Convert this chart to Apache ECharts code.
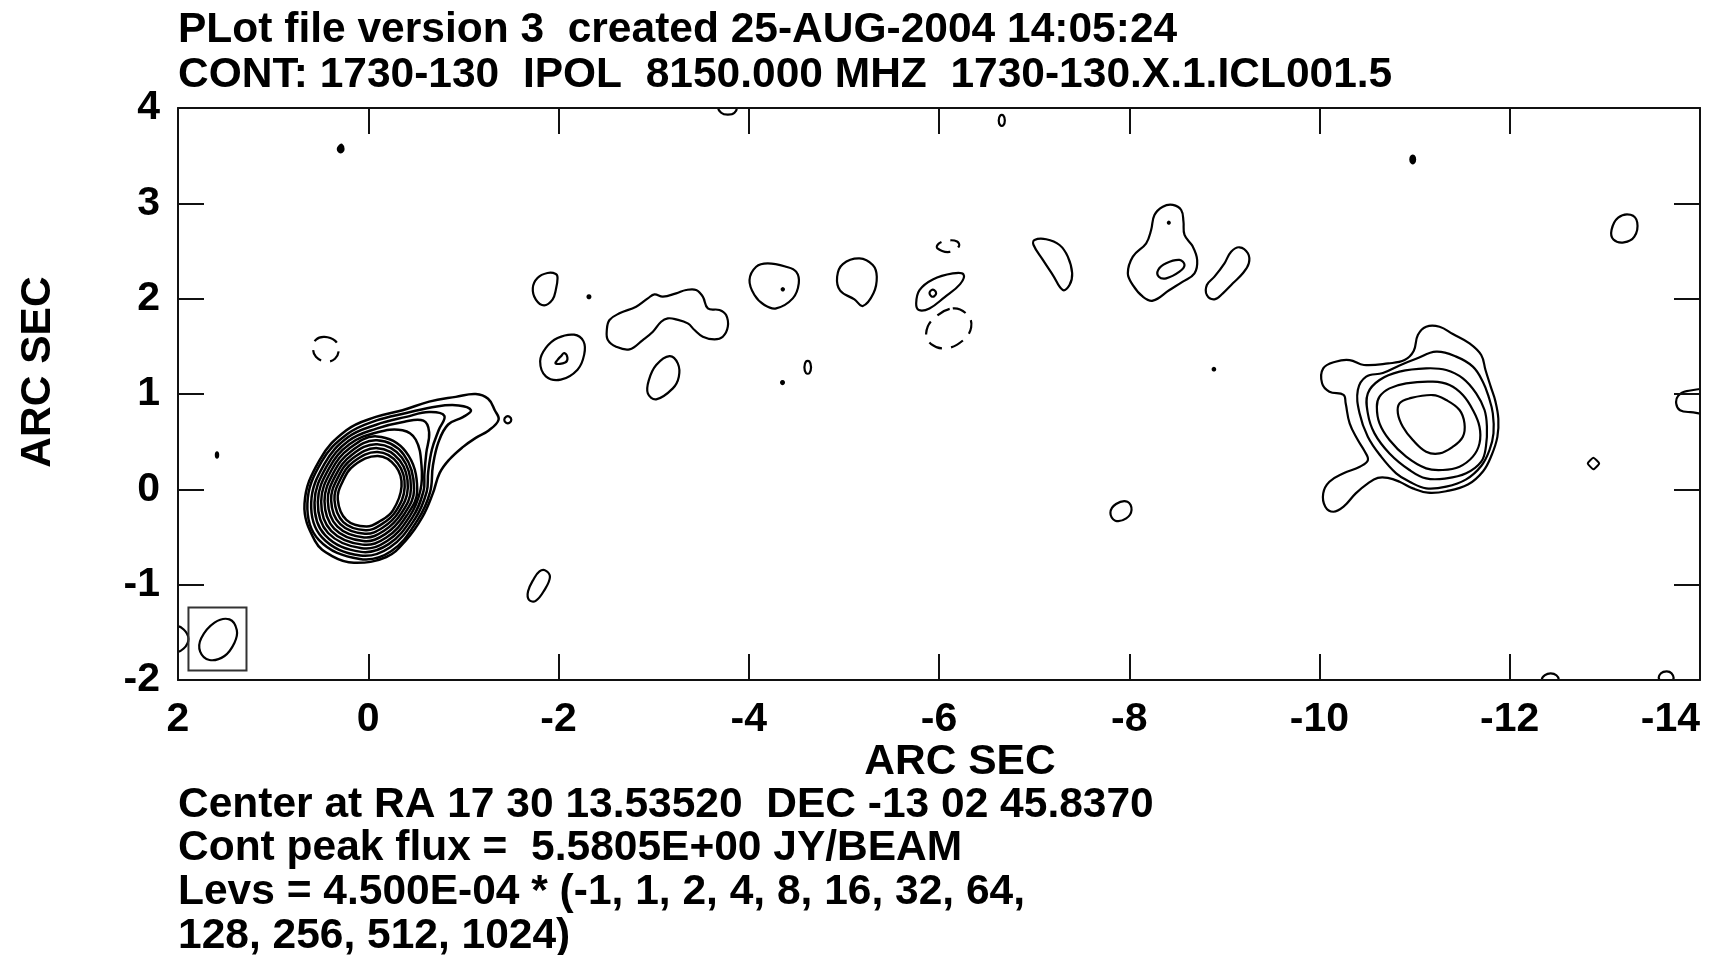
<!DOCTYPE html>
<html>
<head>
<meta charset="utf-8">
<script src="https://cdn.jsdelivr.net/npm/echarts@6/dist/echarts.min.js"></script>
<style>
  html, body { margin: 0; padding: 0; background: #fff; }
  #chart { width: 1717px; height: 955px; }
</style>
</head>
<body>
<div id="chart"></div>
<script>
// ---- Header / footer text ----
const headerLines = [
  'PLot file version 3  created 25-AUG-2004 14:05:24',
  'CONT: 1730-130  IPOL  8150.000 MHZ  1730-130.X.1.ICL001.5'
];
const footerLines = [
  'Center at RA 17 30 13.53520  DEC -13 02 45.8370',
  'Cont peak flux =  5.5805E+00 JY/BEAM',
  'Levs = 4.500E-04 * (-1, 1, 2, 4, 8, 16, 32, 64,',
  '128, 256, 512, 1024)'
];
const axisTitle = 'ARC SEC';

// ---- Contour paths, [RA offset, Dec offset] in arcsec ----
// Core: eleven nested positive levels, the lowest ones bending into the jet
const coreLevel1 = [[0.15,-0.77],[0.38,-0.70],[0.56,-0.54],[0.67,-0.15],[0.51,0.31],[0.23,0.62],[-0.08,0.76],[-0.36,0.83],[-0.64,0.92],[-0.92,0.97],[-1.13,1.0],[-1.26,0.95],[-1.33,0.83],[-1.37,0.73],[-1.27,0.62],[-1.13,0.54],[-0.99,0.44],[-0.85,0.31],[-0.75,0.17],[-0.68,-0.04],[-0.57,-0.29],[-0.40,-0.53],[-0.19,-0.71]];
const coreLevel2 = [[0.09,-0.73],[0.52,-0.53],[0.64,-0.15],[0.49,0.29],[0.22,0.58],[-0.08,0.72],[-0.40,0.80],[-0.72,0.87],[-0.95,0.88],[-1.08,0.83],[-1.00,0.76],[-0.84,0.68],[-0.74,0.50],[-0.68,0.25],[-0.65,-0.03],[-0.52,-0.32],[-0.24,-0.65]];
const coreLevel3 = [[0.084,-0.694],[0.486,-0.504],[0.60,-0.142],[0.462,0.264],[0.214,0.546],[-0.084,0.678],[-0.40,0.76],[-0.64,0.81],[-0.80,0.77],[-0.74,0.62],[-0.67,0.42],[-0.63,0.18],[-0.614,-0.026],[-0.492,-0.308],[-0.226,-0.61]];
const coreLevel4 = [[0.076,-0.656],[0.454,-0.481],[0.565,-0.138],[0.438,0.241],[0.206,0.509],[-0.086,0.637],[-0.38,0.71],[-0.58,0.72],[-0.64,0.60],[-0.61,0.38],[-0.59,0.16],[-0.581,-0.019],[-0.463,-0.297],[-0.214,-0.575]];
const coreLevel5 = [[0.068,-0.618],[0.422,-0.458],[0.53,-0.134],[0.414,0.218],[0.198,0.472],[-0.088,0.596],[-0.36,0.62],[-0.50,0.52],[-0.56,0.25],[-0.548,-0.012],[-0.434,-0.286],[-0.202,-0.54]];
const coreLevel6 = [[0.06,-0.58],[0.39,-0.435],[0.495,-0.13],[0.39,0.195],[0.19,0.435],[-0.09,0.555],[-0.395,0.395],[-0.515,-0.005],[-0.405,-0.275],[-0.19,-0.505]];
const coreLevel7 = [[0.052,-0.542],[0.358,-0.412],[0.46,-0.126],[0.366,0.172],[0.182,0.398],[-0.092,0.514],[-0.374,0.364],[-0.482,0.002],[-0.376,-0.264],[-0.178,-0.47]];
const coreLevel8 = [[0.044,-0.504],[0.326,-0.389],[0.425,-0.122],[0.342,0.149],[0.174,0.361],[-0.094,0.473],[-0.353,0.333],[-0.449,0.009],[-0.347,-0.253],[-0.166,-0.435]];
const coreLevel9 = [[0.036,-0.466],[0.294,-0.366],[0.39,-0.118],[0.318,0.126],[0.166,0.324],[-0.096,0.432],[-0.332,0.302],[-0.416,0.016],[-0.318,-0.242],[-0.154,-0.40]];
const coreLevel10 = [[0.028,-0.428],[0.262,-0.343],[0.355,-0.114],[0.294,0.103],[0.158,0.287],[-0.098,0.391],[-0.311,0.271],[-0.383,0.023],[-0.289,-0.231],[-0.142,-0.365]];
const coreLevel11 = [[0.02,-0.39],[0.23,-0.32],[0.32,-0.11],[0.27,0.08],[0.15,0.25],[-0.10,0.35],[-0.29,0.24],[-0.35,0.03],[-0.26,-0.22],[-0.13,-0.33]];

// Hot spot at about (-11, 0.7): five levels
const lobeLevel1 = [[-10.039,1.269],[-10.168,1.339],[-10.317,1.356],[-10.467,1.304],[-10.723,1.321],[-10.894,1.356],[-10.99,1.45],[-11.034,1.619],[-11.121,1.706],[-11.262,1.706],[-11.402,1.629],[-11.577,1.531],[-11.7,1.409],[-11.745,1.252],[-11.80,1.077],[-11.85,0.92],[-11.88,0.74],[-11.87,0.55],[-11.81,0.36],[-11.72,0.19],[-11.56,0.05],[-11.332,-0.02],[-11.139,-0.035],[-10.981,0.01],[-10.841,0.08],[-10.718,0.12],[-10.613,0.12],[-10.509,0.063],[-10.381,-0.042],[-10.253,-0.182],[-10.146,-0.235],[-10.061,-0.182],[-10.039,-0.042],[-10.104,0.08],[-10.253,0.168],[-10.424,0.237],[-10.509,0.307],[-10.467,0.412],[-10.403,0.517],[-10.317,0.692],[-10.275,0.902],[-10.253,0.99],[-10.104,1.024],[-10.027,1.112]];
const lobeLevel2 = [[-10.403,1.042],[-10.491,1.182],[-10.666,1.22],[-10.841,1.30],[-11.016,1.37],[-11.227,1.444],[-11.437,1.392],[-11.612,1.287],[-11.717,1.129],[-11.78,0.965],[-11.822,0.797],[-11.829,0.587],[-11.787,0.412],[-11.7,0.245],[-11.542,0.105],[-11.332,0.028],[-11.121,0.01],[-10.946,0.08],[-10.806,0.168],[-10.648,0.343],[-10.508,0.552],[-10.421,0.797]];
const lobeLevel3 = [[-10.508,1.007],[-10.631,1.147],[-10.841,1.234],[-11.121,1.269],[-11.332,1.252],[-11.507,1.164],[-11.647,1.007],[-11.735,0.832],[-11.76,0.657],[-11.75,0.45],[-11.7,0.29],[-11.542,0.168],[-11.332,0.115],[-11.121,0.115],[-10.946,0.203],[-10.736,0.377],[-10.578,0.587],[-10.508,0.797]];
const lobeLevel4 = [[-10.631,0.972],[-10.736,1.059],[-10.911,1.112],[-11.192,1.129],[-11.367,1.094],[-11.507,0.989],[-11.612,0.832],[-11.682,0.657],[-11.682,0.482],[-11.612,0.343],[-11.472,0.238],[-11.297,0.203],[-11.121,0.22],[-10.911,0.343],[-10.736,0.517],[-10.631,0.692],[-10.603,0.867]];
const lobeLevel5 = [[-10.841,0.902],[-10.946,0.954],[-11.192,0.989],[-11.332,0.937],[-11.472,0.832],[-11.524,0.692],[-11.507,0.552],[-11.402,0.447],[-11.262,0.377],[-11.121,0.395],[-10.981,0.517],[-10.876,0.657],[-10.824,0.797]];

// Jet knots between the core and the hot spot
const knotA = [[-1.972,2.259],[-1.884,2.269],[-1.779,2.217],[-1.730,2.112],[-1.762,1.99],[-1.849,1.93],[-1.937,1.99],[-1.972,2.094],[-1.99,2.217]];
const knotB = [[-2.164,1.622],[-2.263,1.552],[-2.27,1.413],[-2.2,1.255],[-2.024,1.150],[-1.867,1.185],[-1.807,1.343],[-1.867,1.483],[-1.99,1.587]];
const knotBPeak = [[-2.06,1.43],[-2.094,1.38],[-2.07,1.33],[-1.97,1.32],[-2.0,1.37],[-2.03,1.40]];
const knotC = [[-2.508,1.671],[-2.536,1.776],[-2.641,1.846],[-2.816,1.916],[-2.939,2.003],[-3.009,2.045],[-3.097,2.021],[-3.237,2.056],[-3.342,2.091],[-3.447,2.091],[-3.517,2.021],[-3.57,1.898],[-3.692,1.881],[-3.762,1.828],[-3.78,1.706],[-3.727,1.601],[-3.64,1.573],[-3.517,1.601],[-3.43,1.671],[-3.359,1.741],[-3.237,1.783],[-3.149,1.793],[-3.079,1.758],[-2.992,1.653],[-2.886,1.566],[-2.746,1.468],[-2.606,1.496],[-2.519,1.566]];
const knotD = [[-3.167,1.398],[-3.254,1.321],[-3.265,1.181],[-3.202,1.059],[-3.027,0.944],[-2.939,1.007],[-2.95,1.146],[-3.027,1.304]];
const knotE = [[-4.20,2.37],[-4.393,2.335],[-4.498,2.283],[-4.526,2.16],[-4.463,2.003],[-4.288,1.898],[-4.165,1.933],[-4.06,2.038],[-4.008,2.195],[-4.078,2.335]];
const knotF = [[-5.164,2.423],[-5.304,2.353],[-5.346,2.23],[-5.311,2.056],[-5.199,1.923],[-5.111,1.993],[-4.961,2.084],[-4.929,2.23],[-4.989,2.363]];
const knotG = [[-5.76,1.951],[-5.795,2.09],[-5.935,2.202],[-6.145,2.265],[-6.257,2.255],[-6.222,2.153],[-6.057,2.014],[-5.9,1.898],[-5.788,1.881]];
const knotGPeak = [[-5.90,2.06],[-5.92,2.09],[-5.95,2.09],[-5.97,2.056],[-5.95,2.025],[-5.92,2.025]];
const knotH = [[-7.004,2.616],[-7.127,2.623],[-7.267,2.563],[-7.354,2.441],[-7.4,2.266],[-7.372,2.143],[-7.302,2.091],[-7.197,2.248],[-7.092,2.406],[-6.994,2.563]];
const knotI = [[-8.458,2.983],[-8.546,2.93],[-8.57,2.808],[-8.581,2.668],[-8.668,2.546],[-8.714,2.406],[-8.686,2.266],[-8.563,2.178],[-8.423,2.091],[-8.248,1.979],[-8.143,2.021],[-8.038,2.143],[-7.985,2.266],[-8.038,2.441],[-8.178,2.581],[-8.23,2.72],[-8.265,2.878],[-8.353,2.965]];
const knotIPeak = [[-8.528,2.406],[-8.581,2.353],[-8.528,2.283],[-8.388,2.213],[-8.311,2.231],[-8.304,2.301],[-8.388,2.371]];
const knotJ = [[-9.159,2.539],[-9.247,2.476],[-9.257,2.371],[-9.194,2.266],[-9.089,2.161],[-8.984,2.056],[-8.896,1.993],[-8.816,2.038],[-8.816,2.143],[-8.896,2.231],[-9.001,2.371],[-9.071,2.493]];

// Small isolated positive islands
const islandTail = [[-1.43,0.73],[-1.449,0.762],[-1.485,0.762],[-1.504,0.73],[-1.485,0.698],[-1.449,0.698]];
const islandM = [[-4.585,1.28],[-4.602,1.341],[-4.638,1.341],[-4.655,1.28],[-4.638,1.219],[-4.602,1.219]];
const islandTop = [[-6.628,3.87],[-6.644,3.922],[-6.676,3.922],[-6.692,3.87],[-6.676,3.818],[-6.644,3.818]];
const islandQ = [[-7.981,-0.13],[-8.024,-0.217],[-7.968,-0.305],[-7.853,-0.329],[-7.802,-0.245],[-7.861,-0.154]];
const islandR = [[-13.27,2.88],[-13.34,2.80],[-13.31,2.65],[-13.2,2.59],[-13.09,2.62],[-13.07,2.72],[-13.14,2.85]];
const islandS = [[-12.879,0.33],[-12.94,0.272],[-12.879,0.21],[-12.82,0.272]];
const islandT = [[-1.86,-0.85],[-1.91,-0.92],[-1.85,-1.06],[-1.76,-1.17],[-1.69,-1.16],[-1.68,-1.07],[-1.74,-0.94],[-1.80,-0.86]];
// Single-pixel peaks
const peakNW = [[0.32,3.57],[0.305,3.60],[0.28,3.615],[0.26,3.57],[0.275,3.54],[0.305,3.54]];
const peakW = [[1.578,0.36],[1.584,0.386],[1.596,0.386],[1.602,0.36],[1.596,0.334],[1.584,0.334]];
const peakJ = [[-2.305,2.02],[-2.312,2.033],[-2.328,2.033],[-2.335,2.02],[-2.328,2.007],[-2.312,2.007]];
const peakK = [[-4.346,2.098],[-4.352,2.108],[-4.364,2.108],[-4.37,2.098],[-4.364,2.088],[-4.352,2.088]];
const peakL = [[-4.34,1.12],[-4.347,1.133],[-4.363,1.133],[-4.37,1.12],[-4.363,1.107],[-4.347,1.107]];
const peakPear = [[-8.406,2.797],[-8.411,2.806],[-8.421,2.806],[-8.426,2.797],[-8.421,2.788],[-8.411,2.788]];
const peakN = [[-8.877,1.26],[-8.883,1.271],[-8.897,1.271],[-8.903,1.26],[-8.897,1.249],[-8.883,1.249]];
const peakP = [[-10.955,3.46],[-10.968,3.495],[-10.993,3.495],[-11.005,3.46],[-10.993,3.425],[-10.968,3.425]];
// Islands cut by the map edges
const edgeEast = [[-14.1,1.03],[-13.86,1.03],[-13.77,0.98],[-13.75,0.90],[-13.79,0.83],[-13.9,0.81],[-14.1,0.81]];
const edgeSouth1 = [[-12.34,-2.0],[-12.37,-1.95],[-12.43,-1.93],[-12.49,-1.95],[-12.51,-2.0],[-12.43,-2.06]];
const edgeSouth2 = [[-13.57,-1.99],[-13.59,-1.93],[-13.65,-1.91],[-13.70,-1.93],[-13.72,-1.99],[-13.65,-2.05]];
const edgeNorth = [[-3.68,4.02],[-3.71,3.95],[-3.78,3.93],[-3.85,3.95],[-3.87,4.02],[-3.78,4.10]];
const edgeWest = [[2.03,-1.44],[1.94,-1.47],[1.89,-1.57],[1.94,-1.67],[2.03,-1.70],[2.12,-1.57]];

// Negative level (-1), drawn dashed
const negA = [[0.46,1.60],[0.35,1.56],[0.31,1.47],[0.35,1.37],[0.45,1.34],[0.55,1.39],[0.58,1.48],[0.55,1.57]];
const negB = [[-6.145,1.898],[-6.303,1.828],[-6.338,1.699],[-6.257,1.566],[-6.075,1.479],[-5.917,1.524],[-5.865,1.636],[-5.935,1.783]];
const negC = [[-5.98,2.53],[-6.11,2.49],[-6.21,2.55],[-6.19,2.60],[-6.09,2.61],[-6.0,2.58]];

// Restoring beam and its frame
const beamFrame = [[1.89,-1.24],[1.28,-1.24],[1.28,-1.90],[1.89,-1.90]];
const beamShape = [[1.459,-1.364],[1.382,-1.476],[1.406,-1.609],[1.511,-1.748],[1.669,-1.790],[1.767,-1.703],[1.756,-1.563],[1.616,-1.399]];

// ---- Drawing groups ----
const coreRings = [coreLevel1, coreLevel2, coreLevel3, coreLevel4, coreLevel5, coreLevel6,
                   coreLevel7, coreLevel8, coreLevel9, coreLevel10, coreLevel11];
const solidPaths = [
  lobeLevel1, lobeLevel2, lobeLevel3, lobeLevel4, lobeLevel5,
  knotA, knotB, knotBPeak, knotC, knotD, knotE, knotF, knotG, knotGPeak, knotH, knotI, knotIPeak, knotJ,
  islandTail, islandM, islandTop, islandQ, islandR, islandT,
  edgeEast, edgeSouth1, edgeSouth2, edgeNorth, edgeWest, beamShape
];
const peakPaths = [peakNW, peakW, peakJ, peakK, peakL, peakPear, peakN, peakP];
const dashedPaths = [negA, negB, negC];

const paths = [
  ...coreRings.map(pts => ({ pts, width: 2.5, smooth: 0.4, dash: null, color: '#000', fill: 'none' })),
  ...solidPaths.map(pts => ({ pts, width: 2.2, smooth: 0.4, dash: null, color: '#000', fill: 'none' })),
  ...peakPaths.map(pts => ({ pts, width: 2.2, smooth: 0.4, dash: null, color: '#000', fill: '#000' })),
  { pts: islandS, width: 2, smooth: 0.15, dash: null, color: '#000', fill: 'none' },
  ...dashedPaths.map(pts => ({ pts, width: 2.2, smooth: 0.4, dash: [14, 9], color: '#000', fill: 'none' })),
  { pts: beamFrame, width: 2, smooth: 0, dash: null, color: '#333', fill: 'none' }
];

const FONT = '"Liberation Sans", Arial, Helvetica, sans-serif';
const textStyle = (size) => ({ fontFamily: FONT, fontSize: size, fontWeight: 'bold', color: '#000' });

// Plot rectangle in pixels (shared by grid and the masks that trim edge contours)
const PLOT = { left: 178, top: 108, right: 1700, bottom: 680, W: 1717, H: 955 };

function frameAxis(extra) {
  return Object.assign({
    type: 'value',
    z: 10,
    axisLine: { show: true, onZero: false, lineStyle: { color: '#111', width: 2 } },
    axisTick: { show: true, inside: true, length: 26, lineStyle: { color: '#111', width: 2 } },
    splitLine: { show: false },
    minorTick: { show: false }
  }, extra);
}

const chart = echarts.init(document.getElementById('chart'), null, { renderer: 'canvas' });

const textEl = (x, y, text, opts) => Object.assign({
  type: 'text', x, y, z: 20,
  style: Object.assign({
    text, fill: '#000', font: 'bold 42.5px ' + FONT,
    align: 'left', verticalAlign: 'middle'
  }, (opts && opts.style) || {})
}, (opts && opts.el) || {});

const maskEl = (x, y, w, h) => ({
  type: 'rect', z: 5, silent: true,
  shape: { x, y, width: w, height: h },
  style: { fill: '#fff', stroke: null }
});

chart.setOption({
  animation: false,
  backgroundColor: '#fff',
  grid: {
    left: PLOT.left, right: PLOT.W - PLOT.right, top: PLOT.top, bottom: PLOT.H - PLOT.bottom,
    containLabel: false, outerBoundsMode: 'none'
  },
  xAxis: [
    frameAxis({
      position: 'bottom', min: -14, max: 2, interval: 2, inverse: true,
      axisLabel: Object.assign({
        show: true, margin: 19, showMinLabel: true, showMaxLabel: true,
        alignMinLabel: 'right'
      }, textStyle(41))
    }),
    frameAxis({
      position: 'top', min: -14, max: 2, interval: 2, inverse: true,
      axisLabel: { show: false }
    })
  ],
  yAxis: [
    frameAxis({
      position: 'left', min: -2, max: 4, interval: 1,
      axisLabel: Object.assign({ show: true, margin: 18, showMinLabel: true, showMaxLabel: true }, textStyle(41))
    }),
    frameAxis({
      position: 'right', min: -2, max: 4, interval: 1,
      axisLabel: { show: false }
    })
  ],
  series: [{
    type: 'custom',
    coordinateSystem: 'cartesian2d',
    xAxisIndex: 0,
    yAxisIndex: 0,
    clip: true,
    silent: true,
    z: 2,
    encode: { x: 0, y: 1 },
    data: paths.map(p => [p.pts[0][0], p.pts[0][1]]),
    renderItem: function (params, api) {
      const p = paths[params.dataIndex];
      const points = p.pts.map(pt => api.coord(pt));
      return {
        type: 'polygon',
        shape: { points: points, smooth: p.smooth },
        style: { fill: p.fill, stroke: p.color, lineWidth: p.width, lineDash: p.dash }
      };
    }
  }],
  graphic: [
    // white margins so contours crossing the map border stop at the frame
    maskEl(0, 0, PLOT.W, PLOT.top - 1),
    maskEl(0, PLOT.bottom + 1, PLOT.W, PLOT.H - PLOT.bottom - 1),
    maskEl(0, 0, PLOT.left - 1, PLOT.H),
    maskEl(PLOT.right + 1, 0, PLOT.W - PLOT.right - 1, PLOT.H),
    textEl(178, 30, headerLines[0]),
    textEl(178, 75, headerLines[1]),
    textEl(960, 762, axisTitle, { style: { align: 'center' } }),
    textEl(38, 372, axisTitle, { style: { align: 'center' }, el: { rotation: Math.PI / 2 } }),
    textEl(178, 805, footerLines[0]),
    textEl(178, 848, footerLines[1]),
    textEl(178, 892, footerLines[2]),
    textEl(178, 936, footerLines[3])
  ]
});
</script>
</body>
</html>
